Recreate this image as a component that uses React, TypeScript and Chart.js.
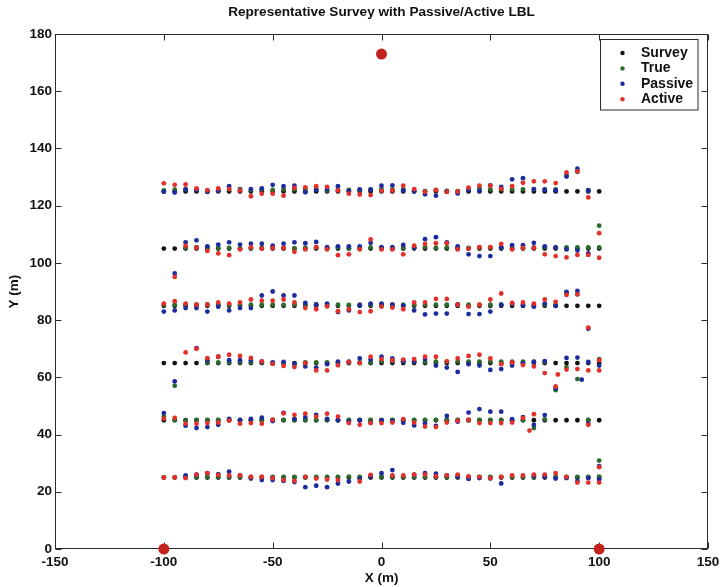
import React, { useEffect, useRef } from "react";
import { Chart, registerables } from "chart.js";

Chart.register(...registerables);

const FONT = "'Liberation Sans', Arial, Helvetica, sans-serif";

// ---------- data ----------
const surveyX = [
  -100, -95, -90, -85, -80, -75, -70, -65, -60, -55, -50, -45, -40, -35, -30,
  -25, -20, -15, -10, -5, 0, 5, 10, 15, 20, 25, 30, 35, 40, 45, 50, 55, 60, 65,
  70, 75, 80, 85, 90, 95, 100,
];
const surveyRows = [25, 45, 65, 85, 105, 125];

const xTickValues = [-150, -100, -50, 0, 50, 100, 150];
const yTickValues = [0, 20, 40, 60, 80, 100, 120, 140, 160, 180];

// beacons (transponders)
const beaconX = [-100, 0, 100];
const beaconY = [0, 173, 0];

// True positions, one y per survey x (null = none)
const true25 = [
  null, null, 25.2, 25.2, 25.2, 25.2, 25.2, 25.2, 25.2, 25.2,
  25.2, 25.2, 25.2, 25.2, 25.2, 25.2, 25.2, 25.3, 25.2, 25.6,
  25.2, 25.2, 25.2, 25.2, 25.2, 25.2, 25.2, 25.2, 25.2, 25.2,
  25.2, 25.2, 25.2, 25.2, 25.2, 25.2, 25.2, 25.2, 25.2, 25.2,
  25.3,
];
const true45 = [
  46.3, 45.1, 44.9, 45.1, 45.1, 45.1, 45.1, 45.1, 45.0, 45.1,
  45.1, 45.1, 45.1, 45.1, 45.1, 45.1, 45.1, 45.1, 45.1, 45.1,
  45.0, 45.1, 45.0, 45.1, 45.1, 45.1, 45.0, 45.1, 45.0, 45.1,
  45.1, 45.1, 45.0, 45.1, 42.3, 45.3, null, null, null, 45.1,
  null,
];
const true65 = [
  null, 57.1, null, null, 65.2, 65.2, 65.2, 65.2, 65.2, 65.2,
  64.9, 64.9, 64.7, 65.2, 65.2, 65.2, 65.2, 65.2, 65.2, 65.2,
  65.6, 65.6, 65.6, 65.5, 65.5, 65.5, 65.5, 65.5, 65.5, 65.5,
  65.5, 65.5, 65.5, 65.5, 65.5, 65.4, 55.5, 63.6, 59.4, null,
  66.4,
];
const true85 = [
  85.4, 85.4, 85.3, 85.4, 85.5, 85.4, 85.3, 85.4, 85.4, 85.4,
  85.4, 85.3, 85.4, 85.4, 85.5, 85.4, 85.4, 85.3, 85.4, 85.4,
  85.5, 85.4, 85.4, 85.3, 85.4, 85.4, 85.4, 85.5, 85.4, 85.3,
  85.4, 85.4, 85.6, 85.5, 85.4, 85.4, 85.4, 89.5, 89.0, null,
  null,
];
const true105 = [
  null, null, 105.3, 105.5, 105.3, 105.2, 105.2, 105.1, 105.2, 105.3,
  105.6, 105.1, 105.1, 105.3, 105.4, 105.2, 105.4, 105.1, 105.3, 105.4,
  105.2, 105.1, 105.3, 105.3, 105.5, 105.3, 105.4, 105.3, 105.2, 105.4,
  105.4, 105.4, 105.3, 105.3, 105.4, 105.4, 105.4, 105.4, 105.4, 105.4,
  105.4,
];
const true125 = [
  125.3, 125.6, 125.7, 125.6, 125.1, 125.3, 125.7, 125.8, 125.5, 125.7,
  125.5, 125.7, 125.7, 125.7, 125.7, 125.3, 125.5, 125.5, 125.4, 125.7,
  125.8, 125.7, 125.7, 125.5, 125.1, 125.5, 125.2, 125.1, 125.8, 126.1,
  125.7, 125.7, 125.7, 125.7, 125.7, 125.7, 125.7, 130.7, 131.8, 125.4,
  null,
];
const trueExtra = [
  [100, 113.0],
  [100, 30.9],
];

// Passive LBL fixes
const passive25 = [
  null, null, 25.7, 26.0, 26.5, 26.2, 27.0, 25.7, 24.6, 24.1,
  24.1, 23.8, 23.4, 21.6, 22.1, 21.6, 22.9, 23.6, 24.5, 25.3,
  26.5, 27.6, null, 26.0, 26.5, 26.3, 25.7, 25.3, 24.5, 24.8,
  24.6, 22.9, null, null, 25.7, 25.3, 24.6, 24.8, 23.8, 24.8,
  29.0,
];
const passive45 = [
  47.5, null, 43.1, 42.3, 42.6, 43.4, 45.5, 45.0, 45.5, 45.9,
  44.7, 47.6, 45.5, 46.1, 46.9, 45.5, 45.0, 44.5, 45.0, 44.1,
  45.0, 44.8, 44.1, 43.2, 43.9, 43.0, 46.5, 44.5, 47.7, 48.9,
  48.0, 48.0, 45.4, 46.1, 43.4, 46.8, null, null, null, 43.8,
  null,
];
const passive65 = [
  null, 58.6, null, 70.2, 66.0, 67.2, 66.0, 66.0, 66.0, 65.5,
  65.2, 65.4, 64.7, 63.8, 63.4, 64.6, 65.5, 65.5, 66.6, 66.2,
  67.2, 66.6, 65.6, 65.6, 66.4, 64.1, 63.4, 61.9, 64.6, 64.1,
  62.6, 62.9, 64.1, 64.9, 65.4, 65.7, 56.2, 66.8, 66.9, 65.4,
  64.1,
];
const passive85 = [
  83.0, 83.4, 84.2, 84.2, 83.0, 84.7, 83.4, 84.2, 84.2, 88.6,
  90.0, 88.6, 88.6, 86.0, 85.4, 85.8, 82.8, 83.4, 85.2, 85.8,
  85.8, 85.4, 85.0, 83.4, 82.0, 82.3, 82.3, 85.4, 82.1, 82.1,
  83.0, 85.4, 85.8, 85.0, 84.7, 85.8, 85.0, 89.9, 90.2, 77.0,
  null,
];
const passive105 = [
  null, 96.3, 107.2, 107.9, 105.8, 106.4, 107.2, 106.4, 106.7, 106.7,
  106.0, 106.7, 107.2, 106.9, 107.3, 105.5, 105.8, 105.8, 105.8, 107.0,
  105.5, 105.5, 106.3, 105.4, 108.3, 109.0, 107.2, 105.8, 103.0, 102.4,
  102.4, 105.4, 106.2, 106.2, 107.0, 105.8, 105.4, 104.7, 104.3, 103.3,
  null,
];
const passive125 = [
  124.9, 124.6, 125.7, 125.5, 124.8, 125.3, 126.8, 125.5, 125.8, 126.0,
  127.3, 126.8, 127.0, 124.7, 125.5, 125.8, 126.8, 125.2, 125.7, 125.6,
  127.0, 127.1, 125.3, 125.0, 124.0, 123.5, 124.9, 124.3, 125.5, 125.2,
  127.1, 126.6, 129.2, 129.6, 125.8, 125.6, 125.4, 130.2, 132.9, 125.3,
  null,
];
const passiveExtra = [
  [92, 59.2],
  [100, 24.3],
];

// Active LBL fixes
const active25 = [
  25.0, 25.0, 24.8, 26.0, 26.5, 25.9, 25.7, 25.7, 25.2, 25.2,
  24.8, 24.1, 23.8, 25.2, 24.6, 24.3, 24.1, null, 23.6, 25.9,
  null, 25.7, 25.7, 26.0, 26.0, 25.4, 25.7, 26.0, 25.4, 25.2,
  24.8, 25.2, 25.7, 25.7, 26.0, 26.0, 26.5, 25.2, 23.2, 23.2,
  28.6,
];
const active45 = [
  45.6, 45.8, 43.8, 43.8, 44.0, 44.2, 44.9, 43.8, 44.0, 43.8,
  45.2, 47.4, 46.9, 47.3, 46.3, 47.3, 46.3, 44.0, 43.4, 44.0,
  44.0, 44.2, 45.4, 44.2, 42.8, 42.6, 44.2, 44.8, 45.2, 44.0,
  44.0, 44.0, 44.2, 45.8, 47.1, null, null, null, null, 43.4,
  null,
];
const active65 = [
  null, null, 68.7, 70.0, 66.7, 67.2, 67.9, 67.5, 66.8, 65.6,
  64.7, 64.0, 63.6, 65.0, 62.4, 62.4, 64.2, 65.4, 65.0, 67.2,
  66.4, 66.0, 66.2, 66.4, 67.2, 67.2, 65.6, 66.6, 67.5, 67.9,
  66.6, 64.6, 65.2, 64.3, 63.8, 61.5, 56.8, 62.7, 62.9, 62.4,
  66.0,
];
const active85 = [
  85.8, 86.6, 85.8, 85.4, 85.4, 86.2, 85.8, 86.2, 87.2, 86.8,
  86.8, 87.2, 86.2, 84.2, 83.8, 84.8, 83.1, 83.8, 82.8, 83.1,
  84.7, 84.4, 83.8, 86.2, 86.2, 87.4, 87.4, 85.4, 84.7, 85.4,
  87.2, 89.3, 86.0, 86.2, 85.8, 87.2, 86.4, 88.8, 89.0, 77.4,
  null,
];
const active105 = [
  null, 95.1, 106.0, 105.3, 104.2, 103.3, 102.7, 104.7, 105.5, 105.0,
  105.2, 105.2, 103.9, 104.7, 105.5, 104.7, 102.7, 103.0, 104.7, 108.2,
  104.7, 104.7, 103.0, 106.0, 106.6, 106.9, 106.9, 104.7, 105.0, 105.5,
  105.5, 106.6, 104.7, 105.2, 105.2, 103.0, 102.4, 101.9, 102.8, 102.8,
  101.8,
];
const active125 = [
  127.8, 127.3, 127.4, 126.0, 125.4, 126.0, 125.8, 125.3, 123.3, 124.2,
  124.2, 123.5, 126.2, 126.4, 126.8, 126.6, 125.3, 124.2, 123.9, 123.7,
  125.2, 125.3, 127.0, 125.8, 124.8, 125.4, 124.8, 124.9, 126.3, 127.0,
  127.0, 125.9, 126.8, 128.0, 128.5, 128.5, 127.9, 131.6, 132.0, 122.9,
  null,
];
const activeExtra = [
  [100, 110.4],
  [81, 61.0],
  [100, 62.4],
  [68, 41.4],
  [100, 23.2],
];

const seriesNames = ["Survey", "True", "Passive", "Active"];
const seriesColors = ["#111111", "#2c6a2c", "#1c2c9e", "#e3302b"];

// ---------- helpers ----------
type Pt = { x: number; y: number };
function rowsToPoints(rows: (number | null)[][], extra: number[][]): Pt[] {
  const pts: Pt[] = [];
  rows.forEach((row) =>
    row.forEach((y, i) => {
      if (y !== null) pts.push({ x: surveyX[i], y });
    })
  );
  extra.forEach(([x, y]) => pts.push({ x, y }));
  return pts;
}

const surveyPoints: Pt[] = [];
surveyRows.forEach((y) => surveyX.forEach((x) => surveyPoints.push({ x, y })));

const truePoints = rowsToPoints([true25, true45, true65, true85, true105, true125], trueExtra);
const passivePoints = rowsToPoints(
  [passive25, passive45, passive65, passive85, passive105, passive125],
  passiveExtra
);
const activePoints = rowsToPoints(
  [active25, active45, active65, active85, active105, active125],
  activeExtra
);
const beaconPoints = beaconX.map((x, i) => ({ x, y: beaconY[i] }));

// ---------- plugins ----------
const framePlugin = {
  id: "matlabFrame",
  beforeDatasetsDraw(chart: any) {
    const { ctx, chartArea: a, scales } = chart;
    const L = Math.round(a.left) + 0.5;
    const R = Math.round(a.right) - 0.5;
    const T = Math.round(a.top) + 0.5;
    const B = Math.round(a.bottom) - 0.5;
    const len = 6;
    ctx.save();
    ctx.strokeStyle = "#2b2b2b";
    ctx.lineWidth = 1;
    ctx.strokeRect(L, T, R - L, B - T);
    ctx.beginPath();
    scales.x.ticks.forEach((t: any) => {
      const px = Math.round(scales.x.getPixelForValue(t.value)) + 0.5;
      ctx.moveTo(px, B);
      ctx.lineTo(px, B - len);
      ctx.moveTo(px, T);
      ctx.lineTo(px, T + len);
    });
    scales.y.ticks.forEach((t: any) => {
      const py = Math.round(scales.y.getPixelForValue(t.value)) + 0.5;
      ctx.moveTo(L, py);
      ctx.lineTo(L + len, py);
      ctx.moveTo(R, py);
      ctx.lineTo(R - len, py);
    });
    ctx.stroke();
    ctx.restore();
  },
};

const legendPlugin = {
  id: "boxLegend",
  afterDraw(chart: any) {
    const { ctx } = chart;
    const bx = 600.5,
      by = 39.5,
      bw = 97.5,
      bh = 70.5;
    ctx.save();
    ctx.fillStyle = "#ffffff";
    ctx.fillRect(bx, by, bw, bh);
    ctx.strokeStyle = "#2b2b2b";
    ctx.lineWidth = 1;
    ctx.strokeRect(bx, by, bw, bh);
    ctx.font = `bold 14px ${FONT}`;
    ctx.textBaseline = "middle";
    ctx.textAlign = "left";
    seriesNames.forEach((name, i) => {
      const y = 53 + i * 15.4;
      ctx.fillStyle = seriesColors[i];
      ctx.beginPath();
      ctx.arc(622.5, y, 2.2, 0, Math.PI * 2);
      ctx.fill();
      ctx.fillStyle = "#111111";
      ctx.fillText(name, 641, y);
    });
    ctx.restore();
  },
};

export default function App() {
  const canvasRef = useRef<HTMLCanvasElement | null>(null);

  useEffect(() => {
    document.body.style.margin = "0";
    const canvas = canvasRef.current;
    if (!canvas) return;
    const pointStyle = (color: string, order: number) => ({
      backgroundColor: color,
      borderColor: color,
      pointRadius: 2.4,
      pointBorderWidth: 0,
      pointHoverRadius: 2.4,
      order,
    });
    const textFont = { family: FONT, size: 13.5, weight: "bold" as const };
    const chart = new Chart(canvas, {
      type: "scatter",
      data: {
        datasets: [
          { label: seriesNames[0], data: surveyPoints, ...pointStyle(seriesColors[0], 4) },
          { label: seriesNames[1], data: truePoints, ...pointStyle(seriesColors[1], 3) },
          { label: seriesNames[2], data: passivePoints, ...pointStyle(seriesColors[2], 2) },
          { label: seriesNames[3], data: activePoints, ...pointStyle(seriesColors[3], 1) },
          {
            label: "Transponders",
            data: beaconPoints,
            backgroundColor: "#c4231d",
            borderColor: "#c4231d",
            pointRadius: 5.5,
            pointBorderWidth: 0,
            order: 0,
            clip: false,
          } as any,
        ],
      },
      options: {
        animation: false,
        responsive: false,
        devicePixelRatio: 1,
        events: [],
        layout: { padding: { left: 0, right: 0, top: 0, bottom: 0 } },
        plugins: {
          legend: { display: false },
          tooltip: { enabled: false },
          title: {
            display: true,
            fullSize: false,
            text: "Representative Survey with Passive/Active LBL",
            color: "#111111",
            font: { family: FONT, size: 13.6, weight: "bold" },
            padding: { top: 4.5, bottom: 13.2 },
          },
        },
        scales: {
          x: {
            type: "linear",
            min: -150,
            max: 150,
            afterBuildTicks: (scale: any) => {
              scale.ticks = xTickValues.map((v) => ({ value: v }));
            },
            afterFit: (scale: any) => {
              scale.height = 38;
              scale.paddingRight = 12;
              scale.paddingLeft = 0;
            },
            grid: { display: false, drawTicks: false },
            border: { display: false },
            ticks: {
              color: "#111111",
              font: textFont,
              padding: 5.5,
              maxRotation: 0,
            },
            title: {
              display: true,
              text: "X (m)",
              color: "#111111",
              font: textFont,
              padding: { top: 0, bottom: 0.5 },
            },
          },
          y: {
            type: "linear",
            min: 0,
            max: 180,
            afterBuildTicks: (scale: any) => {
              scale.ticks = yTickValues.map((v) => ({ value: v }));
            },
            afterFit: (scale: any) => {
              scale.width = 55;
            },
            grid: { display: false, drawTicks: false },
            border: { display: false },
            ticks: {
              color: "#111111",
              font: textFont,
              padding: 3,
            },
            title: {
              display: true,
              text: "Y (m)",
              color: "#111111",
              font: textFont,
              padding: { top: 6, bottom: 0 },
            },
          },
        },
      },
      plugins: [framePlugin, legendPlugin],
    });
    return () => chart.destroy();
  }, []);

  return (
    <div style={{ width: 720, height: 587 }}>
      <canvas ref={canvasRef} width={720} height={587} style={{ display: "block" }} />
    </div>
  );
}
